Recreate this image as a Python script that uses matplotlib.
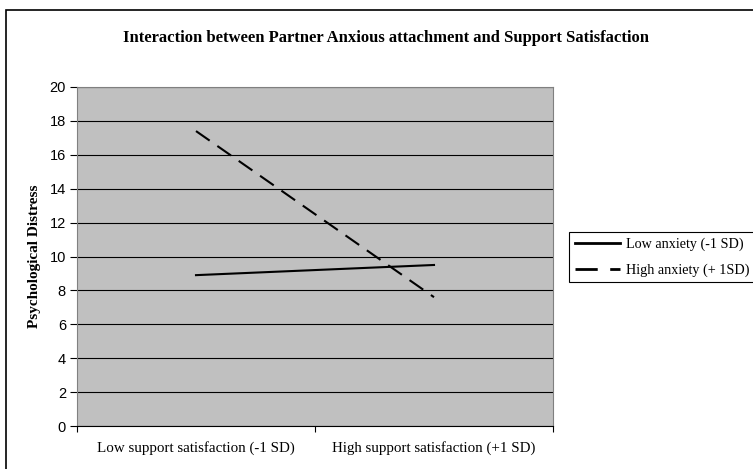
import matplotlib
matplotlib.use("Agg")
import matplotlib.pyplot as plt
from matplotlib.patches import Rectangle

categories = ["Low support satisfaction (-1 SD)", "High support satisfaction (+1 SD)"]
low_anxiety = [8.9, 9.5]
high_anxiety = [17.4, 7.6]
series_labels = ["Low anxiety (-1 SD)", "High anxiety (+ 1SD)"]
yticks = [0, 2, 4, 6, 8, 10, 12, 14, 16, 18, 20]

W, H = 753, 469
fig = plt.figure(figsize=(W / 100, H / 100), dpi=100)
fig.patch.set_facecolor("white")

# outer chart border
fig.add_artist(Rectangle((6 / W, -0.05), 1.2, (H - 10) / H + 0.05, transform=fig.transFigure,
                         fill=False, edgecolor="black", linewidth=1.2))

ax = fig.add_axes([77 / W, 1 - 426 / H, (553 - 77) / W, (426 - 87) / H])
ax.set_facecolor("#C0C0C0")
x = [0.5, 1.5]
ax.plot(x, low_anxiety, color="black", linewidth=1.5, label=series_labels[0])
ax.plot(x, high_anxiety, color="black", linewidth=1.5, linestyle=(0, (8, 4.5)), label=series_labels[1])

ax.set_xlim(0, 2)
ax.set_ylim(0, 20)
ax.set_yticks(yticks)
ax.set_yticklabels([str(v) for v in yticks], fontfamily="Liberation Sans", fontsize=10.5)
ax.yaxis.grid(True, color="black", linewidth=0.8)
ax.set_axisbelow(True)
ax.set_xticks([0, 1, 2])
ax.set_xticklabels([])
ax.set_xticks(x, minor=True)
ax.set_xticklabels(categories, minor=True, fontfamily="Liberation Serif", fontsize=10.8)
ax.tick_params(axis="x", which="minor", length=0, pad=11)
ax.tick_params(axis="x", which="major", length=4, direction="out")
ax.tick_params(axis="y", length=5, direction="out", pad=3)
for s in ["top", "right"]:
    ax.spines[s].set_color("#808080")
    ax.spines[s].set_linewidth(0.8)
ax.spines["left"].set_color("#808080")
ax.spines["bottom"].set_color("black")

ax.set_ylabel("Psychological Distress", fontfamily="Liberation Serif", fontweight="bold",
              fontsize=11, labelpad=6)

fig.text(386 / W, 1 - 38 / H,
         "Interaction between Partner Anxious attachment and Support Satisfaction",
         ha="center", va="center", fontfamily="Liberation Serif", fontweight="bold", fontsize=12)

leg = fig.legend(loc="upper left", bbox_to_anchor=(569 / W, 1 - 232 / H),
                 prop={"family": "Liberation Serif", "size": 10.2},
                 frameon=True, fancybox=False, edgecolor="black", framealpha=1,
                 handlelength=3.2, handletextpad=0.45, borderpad=0.4, labelspacing=0.85,
                 borderaxespad=0)
leg.get_frame().set_linewidth(0.8)
for line in leg.get_lines():
    line.set_linewidth(2.0)

fig.savefig("out.png", dpi=100)
